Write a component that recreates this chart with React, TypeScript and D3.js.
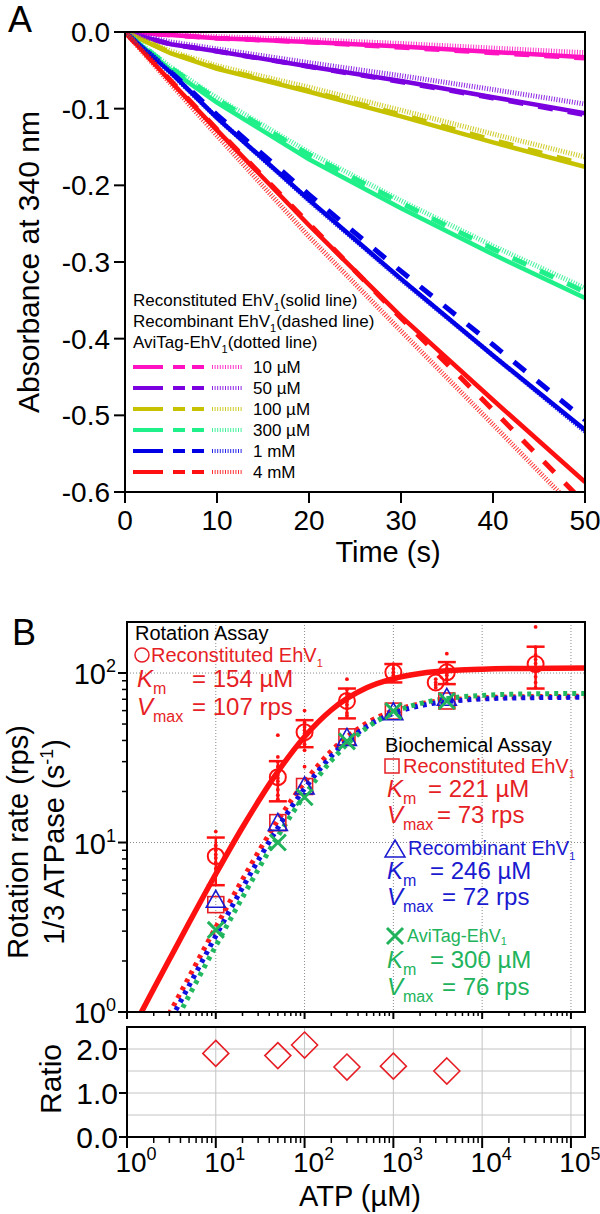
import React from 'react'
import * as d3 from 'd3'

const FONT = '"Liberation Sans", Arial, Helvetica, sans-serif'

// ---- panel A: absorbance traces ----
const timeS = [0, 5, 10, 20, 30, 40, 50]
const concLabels = ['10 µM', '50 µM', '100 µM', '300 µM', '1 mM', '4 mM']
const concColors = ['#ff10c0', '#7b00e0', '#c6c200', '#20f08a', '#0000e6', '#ff1010']
// Reconstituted EhV1 (solid)
const solidAbs = [
  [0, -0.004, -0.008, -0.013, -0.019, -0.026, -0.033],
  [0, -0.016, -0.025, -0.045, -0.064, -0.085, -0.106],
  [0, -0.028, -0.048, -0.078, -0.11, -0.144, -0.176],
  [0, -0.05, -0.092, -0.166, -0.23, -0.29, -0.347],
  [0, -0.053, -0.112, -0.219, -0.322, -0.422, -0.519],
  [0, -0.065, -0.128, -0.252, -0.371, -0.48, -0.587]
]
// Recombinant EhV1 (dashed)
const dashedAbs = [
  [0, -0.004, -0.008, -0.013, -0.02, -0.027, -0.034],
  [0, -0.016, -0.025, -0.045, -0.065, -0.086, -0.108],
  [0, -0.027, -0.047, -0.077, -0.108, -0.141, -0.173],
  [0, -0.047, -0.088, -0.16, -0.223, -0.283, -0.339],
  [0, -0.052, -0.108, -0.212, -0.312, -0.408, -0.506],
  [0, -0.064, -0.127, -0.25, -0.373, -0.493, -0.615]
]
// AviTag-EhV1 (dotted)
const dottedAbs = [
  [0, -0.003, -0.006, -0.01, -0.015, -0.021, -0.027],
  [0, -0.013, -0.022, -0.04, -0.057, -0.075, -0.094],
  [0, -0.025, -0.044, -0.072, -0.102, -0.133, -0.163],
  [0, -0.046, -0.086, -0.157, -0.22, -0.279, -0.334],
  [0, -0.054, -0.112, -0.22, -0.323, -0.422, -0.521],
  [0, -0.068, -0.135, -0.267, -0.39, -0.512, -0.635]
]
const absTicks = [0, -0.1, -0.2, -0.3, -0.4, -0.5, -0.6]
const timeTicks = [0, 10, 20, 30, 40, 50]

// ---- panel B: ATP dependence ----
const rotAtp = [10, 50, 100, 300, 1000, 3000, 4000, 40000]
const rotMean = [8.3, 24.3, 44.8, 68.4, 101, 88, 101, 113]
const rotHi = [10.7, 30.2, 52.7, 81, 113, 88, 116, 143]
const rotLo = [5.6, 17.5, 36.5, 54, 88, 88, 86, 81]
const rotDots = [
  [11.6, 9.6, 9.0, 8.5, 8.1, 7.6, 7.0, 6.4],
  [43, 32, 30, 28, 26.5, 25, 24, 23, 22, 20.5, 19, 18],
  [60, 51, 48, 46, 44, 42, 40, 38, 35, 28],
  [92, 80, 75, 71, 68, 65, 62, 58, 56],
  [113, 106, 101, 97, 93, 90],
  [92, 88, 85, 82],
  [130, 113, 106, 101, 97, 92, 87],
  [187, 142, 128, 120, 114, 108, 102, 95, 88, 82]
]
const bioAtp = [10, 50, 100, 300, 1000, 4000]
const bioReconstituted = [4.3, 13.1, 21.4, 42, 59.6, 68.4]
const bioRecombinant = [4.5, 12.8, 21, 40.6, 57.5, 70]
const bioAviTag = [3.05, 10, 18.5, 39.5, 59.6, 68.4]
const ratioValues = [1.9, 1.85, 2.09, 1.59, 1.61, 1.5]

const fitAtp = [1, 2, 3, 5, 10, 20, 50, 100, 200, 500, 1000, 2000, 5000, 10000, 30000, 144000]
const fitRotation = [0.69, 1.37, 2.04, 3.36, 6.52, 12.3, 26.2, 42.1, 60.5, 81.8, 92.7, 99.4, 103.8, 105.4, 106.5, 106.9]
const fitReconstituted = [0.33, 0.66, 0.98, 1.61, 3.16, 6.06, 13.5, 22.7, 34.7, 50.6, 59.8, 65.7, 69.9, 71.4, 72.5, 72.9]
const fitRecombinant = [0.29, 0.58, 0.87, 1.43, 2.81, 5.41, 12.2, 20.8, 32.3, 48.3, 57.8, 64.1, 68.6, 70.3, 71.4, 71.9]
const fitAviTag = [0.25, 0.5, 0.75, 1.25, 2.45, 4.75, 10.9, 19.0, 30.4, 47.5, 58.5, 66.1, 71.7, 73.8, 75.2, 75.8]

const decadeTicks = [1, 10, 100, 1000, 10000, 100000]
const rateTicks = [1, 10, 100]
const ratioTicks = [0, 1, 2]
const ratioGrid = [0.5, 1, 1.5, 2]

const RED = '#e61e25'
const BLUE = '#1a1ad0'
const GREEN = '#21b35b'

const xA = d3.scaleLinear().domain([0, 50]).range([125, 585])
const yA = d3.scaleLinear().domain([-0.6, 0]).range([492, 32])
const xB = d3.scaleLog().domain([1, 144000]).range([127, 585])
const yB = d3.scaleLog().domain([1, 200]).range([1012, 622])
const yR = d3.scaleLinear().domain([0, 2.5]).range([1137, 1027])

const lineA = d3.line<number>().x((d, i) => xA(timeS[i])).y(d => yA(d))
const lineB = d3
  .line<number>()
  .x((d, i) => xB(fitAtp[i]))
  .y(d => yB(d))
  .curve(d3.curveMonotoneX)

const minorTicks: number[] = []
for (let n = 0; n <= 5; n++) {
  for (let k = 2; k <= 9; k++) {
    const v = k * Math.pow(10, n)
    if (v <= 144000) minorTicks.push(v)
  }
}
const rateMinor = minorTicks.filter(v => v < 200)

const Sup = ({ v }: { v: number }) => (
  <>
    10
    <tspan fontSize={18} dy={-12}>
      {Math.round(Math.log10(v))}
    </tspan>
  </>
)

const KmV = ({ x, y, eqX, text, kind, color, size = 24 }: any) => (
  <text x={x} y={y} fill={color} fontSize={size}>
    <tspan fontStyle="italic">{kind === 'k' ? 'K' : 'V'}</tspan>
    <tspan fontSize={16} dy={7}>
      {kind === 'k' ? 'm' : 'max'}
    </tspan>
    <tspan x={eqX} dy={-7}>
      {text}
    </tspan>
  </text>
)

const EhV = ({ x, y, color, size, name, tail = '', sub = 5 }: any) => (
  <text x={x} y={y} fill={color} fontSize={size}>
    {name}
    <tspan fontSize={11} dy={sub}>
      1
    </tspan>
    <tspan dy={-sub}>{tail}</tspan>
  </text>
)

const App = () => {
  const types = [
    { data: solidAbs, dash: undefined, width: 4.5, opacity: 1 },
    { data: dashedAbs, dash: '15,15', width: 5, opacity: 1 },
    { data: dottedAbs, dash: '1,1.6', width: 5, opacity: 0.85 }
  ]

  return (
    <div style={{ position: 'absolute', left: 0, top: 0 }}>
      <svg width={600} height={1214} style={{ display: 'block', fontFamily: FONT }}>
        <rect width={600} height={1214} fill="#fff" />
        <defs>
          <clipPath id="clipA">
            <rect x={125} y={32} width={460} height={460} />
          </clipPath>
          <clipPath id="clipB">
            <rect x={127} y={622} width={458} height={390} />
          </clipPath>
        </defs>

        {/* ===== Panel A ===== */}
        <text x={8} y={32} fontSize={36}>A</text>
        <g clipPath="url(#clipA)">
          {types.map((t, ti) =>
            t.data.map((arr, ci) => (
              <path
                key={`${ti}-${ci}`}
                d={lineA(arr) || ''}
                fill="none"
                stroke={concColors[ci]}
                strokeWidth={t.width}
                strokeDasharray={t.dash}
                strokeOpacity={t.opacity}
              />
            ))
          )}
        </g>
        <rect x={125} y={32} width={460} height={460} fill="none" stroke="#000" strokeWidth={2} />
        {absTicks.map(v => (
          <g key={v}>
            <line x1={114} x2={125} y1={yA(v)} y2={yA(v)} stroke="#000" strokeWidth={2} />
            <text x={110} y={yA(v) + 10} fontSize={28} textAnchor="end">
              {v === 0 ? '0.0' : v.toFixed(1)}
            </text>
          </g>
        ))}
        {timeTicks.map(v => (
          <g key={v}>
            <line x1={xA(v)} x2={xA(v)} y1={492} y2={503} stroke="#000" strokeWidth={2} />
            <text x={xA(v)} y={530} fontSize={28} textAnchor="middle">
              {v}
            </text>
          </g>
        ))}
        <text transform="translate(39,262) rotate(-90)" fontSize={30} textAnchor="middle">
          Absorbance at 340 nm
        </text>
        <text x={388} y={562} fontSize={29} textAnchor="middle">
          Time (s)
        </text>

        {/* legend A */}
        <EhV x={133} y={306} color="#000" size={17} name="Reconstituted EhV" tail="(solid line)" />
        <EhV x={133} y={327} color="#000" size={17} name="Recombinant EhV" tail="(dashed line)" />
        <EhV x={133} y={348} color="#000" size={17} name="AviTag-EhV" tail="(dotted line)" />
        {concLabels.map((lab, i) => {
          const ly = 367 + i * 21
          return (
            <g key={lab}>
              <line x1={133} x2={163} y1={ly} y2={ly} stroke={concColors[i]} strokeWidth={4} />
              <line x1={173} x2={204} y1={ly} y2={ly} stroke={concColors[i]} strokeWidth={4} strokeDasharray="12,7" />
              <line x1={212} x2={243} y1={ly} y2={ly} stroke={concColors[i]} strokeWidth={4} strokeDasharray="1,1.6" strokeOpacity={0.85} />
              <text x={253} y={ly + 6} fontSize={17}>
                {lab}
              </text>
            </g>
          )
        })}

        {/* ===== Panel B ===== */}
        <text x={12} y={645} fontSize={36}>B</text>
        {/* grids */}
        {decadeTicks.slice(1).map(v => (
          <line key={'gv' + v} x1={xB(v)} x2={xB(v)} y1={622} y2={1012} stroke="#8a8a8a" strokeWidth={1} strokeDasharray="1,2" />
        ))}
        {[10, 100].map(v => (
          <line key={'gh' + v} x1={127} x2={585} y1={yB(v)} y2={yB(v)} stroke="#8a8a8a" strokeWidth={1} strokeDasharray="1,2" />
        ))}

        <g clipPath="url(#clipB)">
          <path d={lineB(fitReconstituted) || ''} fill="none" stroke="#ff1a1a" strokeWidth={5} strokeDasharray="4,5" />
          <path d={lineB(fitRecombinant) || ''} fill="none" stroke="#1010e0" strokeWidth={5} strokeDasharray="4,5" strokeDashoffset={3} />
          <path d={lineB(fitAviTag) || ''} fill="none" stroke="#22b860" strokeWidth={5} strokeDasharray="4,5" strokeDashoffset={6} />
          <path d={lineB(fitRotation) || ''} fill="none" stroke="#ff1010" strokeWidth={5.5} />
        </g>

        {/* rotation assay data */}
        {rotAtp.map((a, i) => {
          const cx = xB(a)
          return (
            <g key={'rot' + a}>
              {rotDots[i].map((d, j) => (
                <circle key={j} cx={cx} cy={yB(d)} r={1.9} fill="#ff1010" />
              ))}
              {rotHi[i] !== rotLo[i] && (
                <g stroke="#ff1010" strokeWidth={2.5}>
                  <line x1={cx} x2={cx} y1={yB(rotHi[i])} y2={yB(rotLo[i])} />
                  <line x1={cx - 9} x2={cx + 9} y1={yB(rotHi[i])} y2={yB(rotHi[i])} />
                  <line x1={cx - 9} x2={cx + 9} y1={yB(rotLo[i])} y2={yB(rotLo[i])} />
                </g>
              )}
              <circle cx={cx} cy={yB(rotMean[i])} r={8} fill="none" stroke="#ff1010" strokeWidth={2} />
            </g>
          )
        })}

        {/* biochemical data */}
        {bioAtp.map((a, i) => {
          const cx = xB(a)
          const sy = yB(bioReconstituted[i])
          const ty = yB(bioRecombinant[i])
          const gy = yB(bioAviTag[i])
          return (
            <g key={'bio' + a}>
              <rect x={cx - 8} y={sy - 8} width={16} height={16} fill="none" stroke={RED} strokeWidth={1.6} />
              <path
                d={`M${cx},${ty - 11}L${cx + 9.5},${ty + 6}L${cx - 9.5},${ty + 6}Z`}
                fill="none"
                stroke={BLUE}
                strokeWidth={1.6}
              />
              <path
                d={`M${cx - 8},${gy - 8}L${cx + 8},${gy + 8}M${cx + 8},${gy - 8}L${cx - 8},${gy + 8}`}
                stroke={GREEN}
                strokeWidth={3}
              />
            </g>
          )
        })}

        <rect x={127} y={622} width={458} height={390} fill="none" stroke="#000" strokeWidth={2} />
        {rateTicks.map(v => (
          <g key={'rt' + v}>
            <line x1={118} x2={127} y1={yB(v)} y2={yB(v)} stroke="#000" strokeWidth={2} />
            <text x={116} y={yB(v) + 11} fontSize={29} textAnchor="end">
              <Sup v={v} />
            </text>
          </g>
        ))}
        {rateMinor.map(v => (
          <line key={'rm' + v} x1={122} x2={127} y1={yB(v)} y2={yB(v)} stroke="#000" strokeWidth={1.5} />
        ))}
        {decadeTicks.map(v => (
          <line key={'ut' + v} x1={xB(v)} x2={xB(v)} y1={1012} y2={1019} stroke="#000" strokeWidth={2} />
        ))}
        {minorTicks.map(v => (
          <line key={'um' + v} x1={xB(v)} x2={xB(v)} y1={1012} y2={1016} stroke="#000" strokeWidth={1.5} />
        ))}

        {/* legends B */}
        <text x={135} y={640} fontSize={20}>Rotation Assay</text>
        <circle cx={142} cy={655} r={7} fill="none" stroke={RED} strokeWidth={1.5} />
        <EhV x={151} y={662} color={RED} size={20} name="Reconstituted EhV" />
        <KmV x={137} y={687} eqX={192} text="= 154 µM" kind="k" color={RED} />
        <KmV x={137} y={715} eqX={192} text="= 107 rps" kind="v" color={RED} />

        <text x={385} y={752} fontSize={20}>Biochemical Assay</text>
        <rect x={385} y={759} width={14} height={14} fill="none" stroke={RED} strokeWidth={1.5} />
        <EhV x={403} y={773} color={RED} size={20} name="Reconstituted EhV" />
        <KmV x={387} y={797} eqX={428} text="= 221 µM" kind="k" color={RED} />
        <KmV x={387} y={823} eqX={437} text="= 73 rps" kind="v" color={RED} />

        <path d="M395,840L405,857L385,857Z" fill="none" stroke={BLUE} strokeWidth={1.5} />
        <EhV x={408} y={855} color={BLUE} size={20} name="Recombinant EhV" />
        <KmV x={387} y={879} eqX={430} text="= 246 µM" kind="k" color={BLUE} />
        <KmV x={387} y={905} eqX={442} text="= 72 rps" kind="v" color={BLUE} />

        <path d="M387,928L403,944M403,928L387,944" stroke={GREEN} strokeWidth={3} />
        <EhV x={407} y={942} color={GREEN} size={18} name="AviTag-EhV" sub={3} />
        <KmV x={387} y={968} eqX={430} text="= 300 µM" kind="k" color={GREEN} />
        <KmV x={387} y={995} eqX={442} text="= 76 rps" kind="v" color={GREEN} />

        <text transform="translate(28,842) rotate(-90)" fontSize={29} textAnchor="middle">
          Rotation rate (rps)
        </text>
        <text transform="translate(64,842) rotate(-90)" fontSize={29} textAnchor="middle">
          1/3 ATPase (s
          <tspan fontSize={18} dy={-11}>
            -1
          </tspan>
          <tspan dy={11}>)</tspan>
        </text>

        {/* ratio panel */}
        {decadeTicks.slice(1).map(v => (
          <line key={'rg' + v} x1={xB(v)} x2={xB(v)} y1={1027} y2={1137} stroke="#c4c4c4" strokeWidth={1} />
        ))}
        {ratioGrid.map(v => (
          <line key={'rh' + v} x1={127} x2={585} y1={yR(v)} y2={yR(v)} stroke="#c4c4c4" strokeWidth={1} />
        ))}
        {bioAtp.map((a, i) => {
          const cx = xB(a)
          const cy = yR(ratioValues[i])
          return (
            <path
              key={'rd' + a}
              d={`M${cx},${cy - 13}L${cx + 13},${cy}L${cx},${cy + 13}L${cx - 13},${cy}Z`}
              fill="none"
              stroke={RED}
              strokeWidth={1.6}
            />
          )
        })}
        <rect x={127} y={1027} width={458} height={110} fill="none" stroke="#000" strokeWidth={2} />
        {ratioTicks.map(v => (
          <g key={'rtk' + v}>
            <line x1={119} x2={127} y1={yR(v)} y2={yR(v)} stroke="#000" strokeWidth={2} />
            <text x={118} y={yR(v) + 11} fontSize={30} textAnchor="end">
              {v.toFixed(1)}
            </text>
          </g>
        ))}
        {decadeTicks.map(v => (
          <g key={'bt' + v}>
            <line x1={xB(v)} x2={xB(v)} y1={1137} y2={1148} stroke="#000" strokeWidth={2} />
            <text x={xB(v) + 9} y={1172} fontSize={28} textAnchor="middle">
              <Sup v={v} />
            </text>
          </g>
        ))}
        {minorTicks.map(v => (
          <line key={'bm' + v} x1={xB(v)} x2={xB(v)} y1={1137} y2={1143} stroke="#000" strokeWidth={1.5} />
        ))}
        <text transform="translate(61,1079) rotate(-90)" fontSize={30} textAnchor="middle">
          Ratio
        </text>
        <text x={360} y={1206} fontSize={29} textAnchor="middle">
          ATP (µM)
        </text>
      </svg>
    </div>
  )
}

export default App
